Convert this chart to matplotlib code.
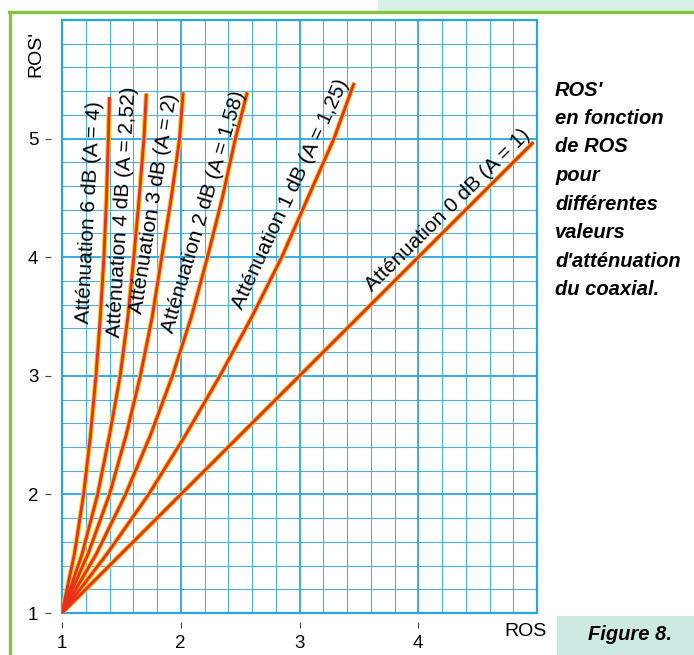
import numpy as np
import matplotlib.pyplot as plt
from matplotlib.patches import Rectangle
from matplotlib.lines import Line2D
from matplotlib.ticker import MultipleLocator

## Data: ROS' (y) against ROS (x) for each attenuation

ros_prime = [1, 1.5, 2, 2.5, 3, 3.5, 4, 4.5, 5]

ros_6db = [1, 1.105, 1.182, 1.24, 1.286, 1.323, 1.353, 1.375, 1.39, 1.40]
rosp_6db = ros_prime + [5.35]
ros_4db = [1, 1.17, 1.30, 1.40, 1.49, 1.555, 1.605, 1.65, 1.69, 1.71]
rosp_4db = ros_prime + [5.38]
ros_3db = [1, 1.22, 1.40, 1.54, 1.66, 1.76, 1.84, 1.92, 1.99, 2.02]
rosp_3db = ros_prime + [5.39]
ros_2db = [1, 1.29, 1.535, 1.745, 1.93, 2.09, 2.225, 2.35, 2.46, 2.56]
rosp_2db = ros_prime + [5.39]
ros_1db = [1, 1.38, 1.73, 2.04, 2.33, 2.6, 2.85, 3.07, 3.29, 3.46]
rosp_1db = ros_prime + [5.47]
ros_0db = [1, 4.97]
rosp_0db = [1, 4.97]

curves_x = [ros_6db, ros_4db, ros_3db, ros_2db, ros_1db, ros_0db]
curves_y = [rosp_6db, rosp_4db, rosp_3db, rosp_2db, rosp_1db, rosp_0db]

labels = ['Atténuation 6 dB (A = 4)', 'Atténuation 4 dB (A = 2,52)',
          'Atténuation 3 dB (A = 2)', 'Atténuation 2 dB (A = 1,58)',
          'Atténuation 1 dB (A = 1,25)', 'Atténuation 0 dB (A = 1)']
# label centre (data coords) and angle
label_x = [1.232, 1.505, 1.772, 2.19, 2.925, 4.25]
label_y = [4.38, 4.38, 4.45, 4.38, 4.53, 4.40]
label_rot = [87, 86.5, 81, 73.5, 65, 44.5]

xticks = [1, 2, 3, 4]
yticks = [1, 2, 3, 4, 5]

caption = ["ROS'", 'en fonction', 'de ROS', 'pour', 'différentes',
           'valeurs', "d'atténuation", 'du coaxial.']

## Figure

W, H = 694, 655
fig = plt.figure(figsize=(W / 100, H / 100), dpi=100)
plt.rcParams['font.family'] = ['Liberation Sans', 'DejaVu Sans']

blue = '#2aa5df'
green = '#86c440'

# page decorations
fig.add_artist(Rectangle((378 / W, 1 - 11 / H), 1, 11 / H, transform=fig.transFigure,
                         color='#d9efe9', lw=0))
fig.add_artist(Line2D([9.5 / W, 9.5 / W], [0, 1 - 12 / H], transform=fig.transFigure,
                      color=green, lw=2.4))
fig.add_artist(Line2D([8.5 / W, 1], [1 - 12 / H, 1 - 12 / H], transform=fig.transFigure,
                      color=green, lw=2.4))
fig.add_artist(Rectangle((557 / W, 0), 1, 39 / H, transform=fig.transFigure,
                         color='#cdeae2', lw=0))
fig.text(630 / W, 1 - 634 / H, 'Figure 8.', ha='center', va='center', fontsize=14.5,
         style='italic', fontweight='bold')

for i, line in enumerate(caption):
    fig.text(555 / W, 1 - (90 + 28.5 * i) / H, line, ha='left', va='center',
             fontsize=14.5, style='italic', fontweight='bold')

ax = fig.add_axes([62 / W, 1 - 613 / H, 475 / W, 593 / H])
ax.set_xlim(1, 5)
ax.set_ylim(1, 6)

# graph paper
ax.xaxis.set_minor_locator(MultipleLocator(0.2))
ax.yaxis.set_minor_locator(MultipleLocator(0.2))
ax.grid(which='minor', color=blue, lw=0.8, alpha=0.85)
for v in np.arange(2, 5):
    ax.axvline(v, color=blue, lw=1.3, zorder=1)
for v in np.arange(2, 6):
    ax.axhline(v, color=blue, lw=1.3, zorder=1)
ax.add_patch(Rectangle((1, 1), 4, 5, fill=False, ec=blue, lw=1.6, clip_on=False, zorder=2))

# curves: yellow halo under a red core
for cx, cy in zip(curves_x, curves_y):
    ax.plot(cx, cy, color='#f6cf1a', lw=3.6, solid_capstyle='butt', zorder=3)
    ax.plot(cx, cy, color='#e8301c', lw=2.1, solid_capstyle='butt', zorder=4)

for txt, lx, ly, rot in zip(labels, label_x, label_y, label_rot):
    ax.text(lx, ly, txt, rotation=rot, rotation_mode='anchor', ha='center', va='center',
            fontsize=15, color='black', zorder=5)

# axes
for s in ax.spines.values():
    s.set_visible(False)
ax.spines['left'].set_position(('outward', 8))
ax.spines['bottom'].set_position(('outward', 6.5))
ax.set_xticks(xticks)
ax.set_yticks(yticks)
ax.tick_params(which='major', direction='out', length=4, width=0.8, color='#444',
               labelsize=13.5)
ax.tick_params(axis='y', pad=5)
ax.tick_params(axis='x', pad=5)
ax.tick_params(which='minor', length=0)

ax.text(0.78, 5.71, "ROS'", rotation=90, ha='center', va='center', fontsize=14, clip_on=False)
ax.text(4.90, 0.84, 'ROS', ha='center', va='center', fontsize=14, clip_on=False)

plt.savefig('out.png', dpi=100)
